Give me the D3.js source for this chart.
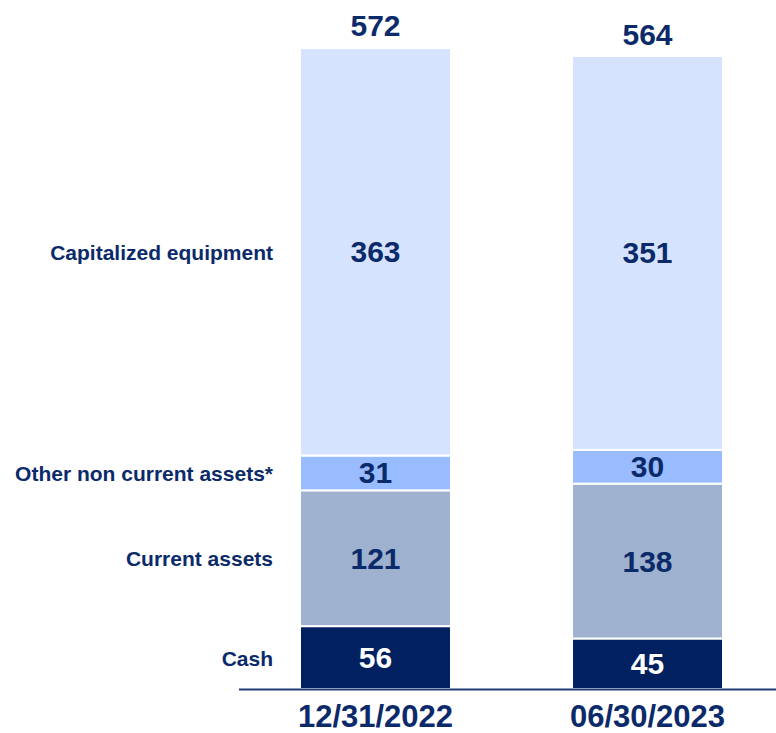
<!DOCTYPE html>
<meta charset="utf-8">
<style>
body { margin: 0; background: #fff; }
text { font-family: "Liberation Sans", Arial, sans-serif; font-weight: bold; }
</style>
<body>
<script src="https://d3js.org/d3.v7.min.js"></script>
<script>

var width = 776,
    height = 733;

var dates = ["12/31/2022", "06/30/2023"];
var segments = ["Cash", "Current assets", "Other non current assets*", "Capitalized equipment"];
var cash = [56, 45];
var currentAssets = [121, 138];
var otherNonCurrent = [31, 30];
var capEquipment = [363, 351];
var totals = [572, 564];

var colors = ["#002060", "#9eb1ce", "#99bbff", "#d6e3ff"];
var navy = "#0b2a6a";

var rows = dates.map(function(d, i) {
  return { date: d, "Cash": cash[i], "Current assets": currentAssets[i],
           "Other non current assets*": otherNonCurrent[i], "Capitalized equipment": capEquipment[i] };
});

var stack = d3.stack().keys(segments)(rows);

var svg = d3.select("body").append("svg")
    .attr("width", width)
    .attr("height", height);

// bands land at x=300 and x=572, 151 wide
var x = d3.scaleBand()
    .domain(dates)
    .range([164, 859])
    .paddingInner(0.445)
    .paddingOuter(0.5);

var y = d3.scaleLinear()
    .domain([0, 572])
    .range([689, 47]);

var layer = svg.selectAll("g.layer")
    .data(stack)
  .enter().append("g")
    .attr("class", "layer")
    .attr("fill", function(d, i) { return colors[i]; });

layer.selectAll("rect")
    .data(function(d) { return d; })
  .enter().append("rect")
    .attr("x", function(d) { return x(d.data.date); })
    .attr("y", function(d) { return y(d[1]); })
    .attr("width", x.bandwidth())
    .attr("height", function(d) { return y(d[0]) - y(d[1]); })
    .attr("stroke", "#fff")
    .attr("stroke-width", 2);

// value labels
layer.selectAll("text")
    .data(function(d) { return d.map(function(v) { v.key = d.key; return v; }); })
  .enter().append("text")
    .attr("x", function(d) { return x(d.data.date) + x.bandwidth() / 2; })
    .attr("y", function(d) { return (y(d[0]) + y(d[1])) / 2 + 10.5; })
    .attr("text-anchor", "middle")
    .style("font-size", "30px")
    .attr("fill", function(d) { return d.key === "Cash" ? "#fff" : navy; })
    .text(function(d) { return d[1] - d[0]; });

// totals
svg.selectAll("text.total")
    .data(dates)
  .enter().append("text")
    .attr("class", "total")
    .attr("x", function(d) { return x(d) + x.bandwidth() / 2; })
    .attr("y", function(d, i) { return y(totals[i]) - 11; })
    .attr("text-anchor", "middle")
    .style("font-size", "30px")
    .attr("fill", navy)
    .text(function(d, i) { return totals[i]; });

// segment names to the left of first bar
svg.selectAll("text.seg")
    .data(stack)
  .enter().append("text")
    .attr("class", "seg")
    .attr("x", 273)
    .attr("y", function(d) { return (y(d[0][0]) + y(d[0][1])) / 2 + 8; })
    .attr("text-anchor", "end")
    .style("font-size", "21px")
    .attr("fill", navy)
    .text(function(d) { return d.key; });

// baseline
svg.append("line")
    .attr("x1", 239).attr("x2", 776)
    .attr("y1", y(0) + 0.5).attr("y2", y(0) + 0.5)
    .attr("stroke", "#1f3c78")
    .attr("stroke-width", 2);

// date labels
svg.selectAll("text.date")
    .data(dates)
  .enter().append("text")
    .attr("class", "date")
    .attr("x", function(d) { return x(d) + x.bandwidth() / 2; })
    .attr("y", 727)
    .attr("text-anchor", "middle")
    .style("font-size", "31px")
    .attr("fill", navy)
    .text(function(d) { return d; });

</script>
